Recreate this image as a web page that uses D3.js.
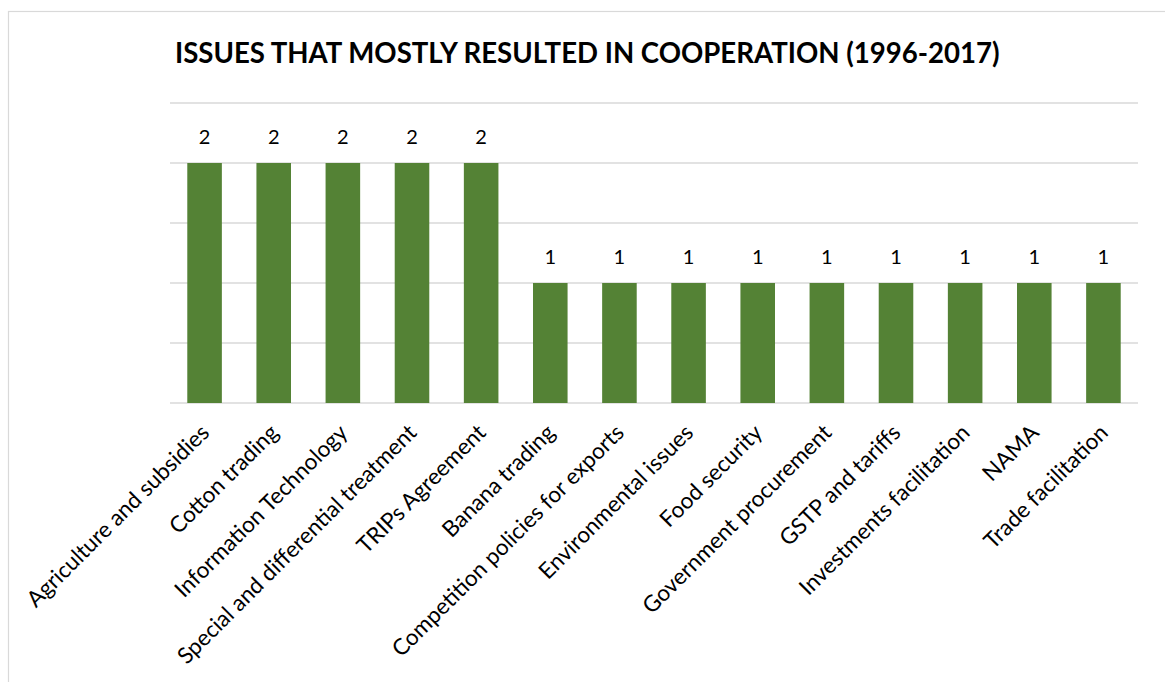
<!DOCTYPE html>
<html>
<head>
<meta charset="utf-8">
<script src="https://cdn.jsdelivr.net/npm/d3@7/dist/d3.min.js"></script>
<style>
  html, body { margin: 0; padding: 0; background: #fff; }
  svg { display: block; }
  text { font-family: Lato, "Open Sans", sans-serif; fill: #000; }
</style>
</head>
<body>
<svg id="chart" width="1165" height="682"></svg>
<script>
// Issues and how often each mostly resulted in cooperation
const categories = [
  "Agriculture and subsidies",
  "Cotton trading",
  "Information Technology",
  "Special and differential treatment",
  "TRIPs Agreement",
  "Banana trading",
  "Competition policies for exports",
  "Environmental issues",
  "Food security",
  "Government procurement",
  "GSTP and tariffs",
  "Investments facilitation",
  "NAMA",
  "Trade facilitation"
];
const counts = [2, 2, 2, 2, 2, 1, 1, 1, 1, 1, 1, 1, 1, 1];
const yTicks = [0, 0.5, 1, 1.5, 2, 2.5];
const title = "ISSUES THAT MOSTLY RESULTED IN COOPERATION (1996-2017)";

const svg = d3.select("#chart");
const plot = { left: 170, right: 1138, top: 103, bottom: 403 };

// outer chart frame
svg.append("rect")
  .attr("x", 8.5).attr("y", 11.5)
  .attr("width", 1170).attr("height", 700)
  .attr("fill", "#fff").attr("stroke", "#d9d9d9").attr("stroke-width", 1.2);

// title, sized to span its intended width
const t = svg.append("text")
  .attr("x", 175).attr("y", 63)
  .attr("font-weight", 700)
  .attr("font-size", 24)
  .text(title);
const tw = t.node().getComputedTextLength();
t.attr("font-size", 24 * 825 / tw);

const x = d3.scaleBand()
  .domain(categories)
  .range([plot.left, plot.right])
  .paddingInner(0.5)
  .paddingOuter(0.25);

const y = d3.scaleLinear()
  .domain([0, 2.5])
  .range([plot.bottom, plot.top]);

// horizontal gridlines
svg.append("g")
  .selectAll("line")
  .data(yTicks)
  .join("line")
  .attr("x1", plot.left).attr("x2", plot.right)
  .attr("y1", d => y(d)).attr("y2", d => y(d))
  .attr("stroke", "#d9d9d9").attr("stroke-width", 1.5);

// bars
svg.append("g")
  .selectAll("rect")
  .data(counts)
  .join("rect")
  .attr("x", (d, i) => x(categories[i]))
  .attr("y", d => y(d))
  .attr("width", x.bandwidth())
  .attr("height", d => y(0) - y(d))
  .attr("fill", "#548235");

// value labels
svg.append("g")
  .selectAll("text")
  .data(counts)
  .join("text")
  .attr("x", (d, i) => x(categories[i]) + x.bandwidth() / 2)
  .attr("y", d => y(d) - 19)
  .attr("text-anchor", "middle")
  .attr("font-size", 20)
  .text(d => d);

// rotated category labels
svg.append("g")
  .selectAll("text")
  .data(categories)
  .join("text")
  .attr("text-anchor", "end")
  .attr("font-size", 22.5)
  .attr("transform", d => {
    const cx = x(d) + x.bandwidth() / 2 + 6;
    return `translate(${cx},${plot.bottom + 31}) rotate(-45)`;
  })
  .text(d => d);
</script>
</body>
</html>
